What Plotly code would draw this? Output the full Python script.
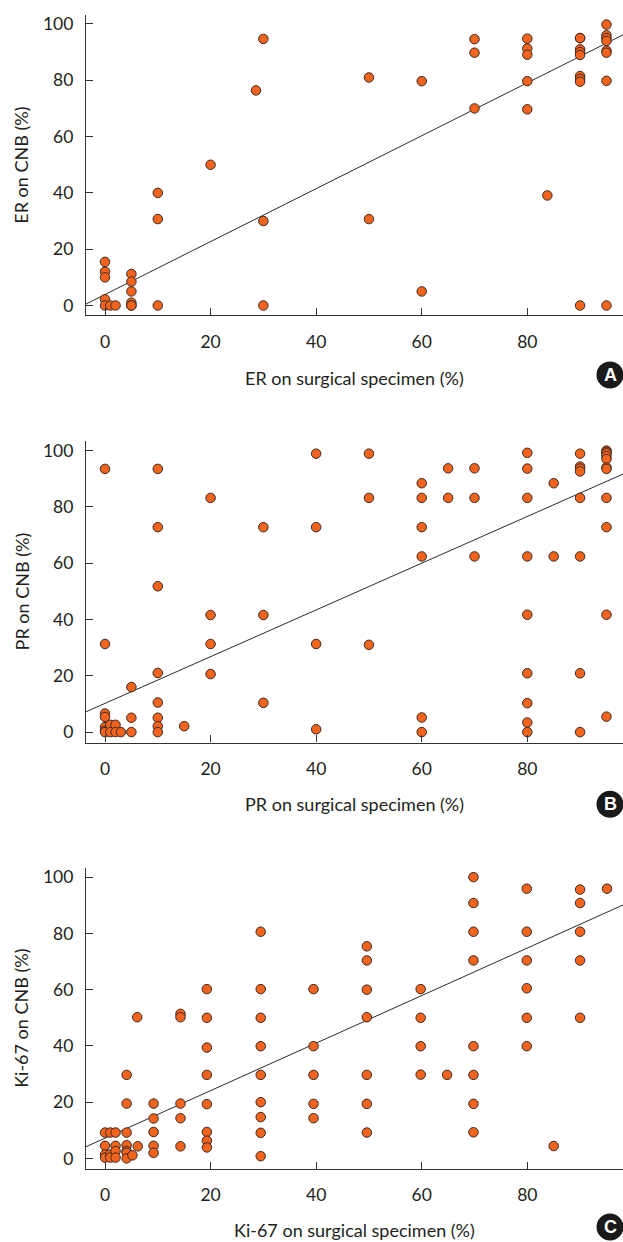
import plotly.graph_objects as go

# ---------------- data ----------------
er_surgical = [0, 0, 0, 0, 0, 1, 2,
               5, 5, 5, 5, 5, 5,
               10, 10, 10, 20, 28.6, 30, 30, 30,
               50, 50, 60, 60, 70, 70, 70,
               80, 80, 80, 80, 80, 83.8,
               90, 90, 90, 90, 90, 90, 90, 90, 90,
               95, 95, 95, 95, 95, 95, 95, 95]
er_cnb = [15.5, 12, 10, 2.2, 0, 0, 0,
          11.2, 8.5, 5, 1, 0, 0,
          40, 30.7, 0, 50, 76.4, 94.7, 30, 0,
          81, 30.7, 79.7, 5, 94.6, 89.8, 70,
          94.8, 91.3, 89.1, 79.7, 69.7, 39.1,
          95, 95, 91, 90, 89, 81.5, 80.5, 79.5, 0,
          99.8, 96, 95, 94, 90.5, 89.8, 79.8, 0]
er_fit = (3.9, 0.94)  # intercept, slope

pr_surgical = [0, 0, 0, 0, 0, 0, 0, 1, 1, 2, 2, 3,
               5, 5, 5,
               10, 10, 10, 10, 10, 10, 10, 10, 15,
               20, 20, 20, 20, 30, 30, 30,
               40, 40, 40, 40, 50, 50, 50,
               60, 60, 60, 60, 60, 60, 65, 65, 70, 70, 70,
               80, 80, 80, 80, 80, 80, 80, 80, 80, 85, 85,
               90, 90, 90, 90, 90, 90, 90, 90,
               95, 95, 95, 95, 95, 95, 95, 95, 95, 95, 95]
pr_cnb = [93.5, 31.3, 6.6, 5.4, 1.8, 0.5, 0, 2.6, 0, 2.6, 0, 0,
          16, 5.1, 0,
          93.5, 72.8, 51.8, 21, 10.5, 5.1, 2.1, 0, 2.1,
          83.2, 41.6, 31.3, 20.6, 72.8, 41.6, 10.4,
          98.9, 72.8, 31.3, 1.0, 98.9, 83.2, 31.0,
          88.4, 83.2, 72.8, 62.4, 5.2, 0, 93.7, 83.2, 93.7, 83.2, 62.4,
          99.2, 93.6, 83.2, 62.4, 41.7, 20.9, 10.3, 3.4, 0, 88.4, 62.4,
          98.9, 94.3, 93.6, 92.6, 83.2, 62.4, 20.9, 0,
          100, 99.5, 99, 98, 97, 94, 93.5, 83.2, 72.8, 41.7, 5.5]
pr_fit = (10.2, 0.83)

ki_surgical = [0, 0, 0, 0, 1, 1, 1, 2, 2, 2, 2,
               4.1, 4.1, 4.1, 4.1, 4.1, 4.1, 4.1, 5.2, 6.1, 6.2,
               9.2, 9.2, 9.2, 9.2, 9.2,
               14.3, 14.3, 14.3, 14.3, 14.3,
               19.3, 19.3, 19.3, 19.3, 19.3, 19.3, 19.3, 19.3,
               29.5, 29.5, 29.5, 29.5, 29.5, 29.5, 29.5, 29.5, 29.5,
               39.5, 39.5, 39.5, 39.5, 39.5,
               49.6, 49.6, 49.6, 49.6, 49.6, 49.6, 49.6,
               59.8, 59.8, 59.8, 59.8, 64.8,
               69.8, 69.8, 69.8, 69.8, 69.8, 69.8, 69.8, 69.8,
               79.9, 79.9, 79.9, 79.9, 79.9, 79.9, 85,
               90, 90, 90, 90, 90, 95.1]
ki_cnb = [9.2, 4.5, 1.4, 0.3, 9.2, 1.4, 0.3, 9.2, 4.5, 2.6, 0.3,
          29.7, 19.5, 9.2, 4.7, 2.6, 2.0, 0, 1.1, 50.2, 4.3,
          19.5, 14.2, 9.4, 4.5, 2.0,
          51.4, 50.2, 19.5, 14.3, 4.3,
          60.2, 50, 39.4, 29.7, 19.3, 9.4, 6.3, 3.9,
          80.6, 60.2, 50, 39.9, 29.7, 20, 14.7, 9.1, 0.8,
          60.2, 39.9, 29.7, 19.4, 14.3,
          75.4, 70.4, 60, 50.2, 29.7, 19.4, 9.2,
          60.2, 50, 39.9, 29.8, 29.7,
          100, 90.8, 80.6, 70.4, 39.9, 29.7, 19.4, 9.3,
          95.9, 80.6, 70.4, 60.5, 50, 39.9, 4.4,
          95.6, 90.8, 80.6, 70.4, 50, 95.9]
ki_fit = (7.2, 0.845)

y_titles = ["ER on CNB (%)", "PR on CNB (%)", "Ki-67 on CNB (%)"]
x_titles = ["ER on surgical specimen (%)", "PR on surgical specimen (%)",
            "Ki-67 on surgical specimen (%)"]
badges = ["A", "B", "C"]
x_ticks = [0, 20, 40, 60, 80]
y_ticks = [0, 20, 40, 60, 80, 100]

# ---------------- layout geometry ----------------
W, H = 623, 1242
FONT = "Lato"
x_range = [-3.6, 98.13]
y_ranges = [[-3.55, 103.2], [-3.69, 103.3], [-3.8, 103.4]]
# (top px, bottom px) of each panel
panel_px = [(13, 314), (440, 741.7), (867, 1169)]
xtitle_px = [377, 803, 1230]
badge_px = [373.5, 803.5, 1227]
left_px = 86

fig = go.Figure()
datasets = [(er_surgical, er_cnb, er_fit),
            (pr_surgical, pr_cnb, pr_fit),
            (ki_surgical, ki_cnb, ki_fit)]

for i, (xs, ys, (b0, b1)) in enumerate(datasets):
    ax = "" if i == 0 else str(i + 1)
    fig.add_trace(go.Scatter(
        x=[x_range[0], x_range[1]],
        y=[b0 + b1 * x_range[0], b0 + b1 * x_range[1]],
        mode="lines", line=dict(color="#2b2b2b", width=1),
        xaxis="x" + ax, yaxis="y" + ax, showlegend=False, hoverinfo="skip"))
    fig.add_trace(go.Scatter(
        x=xs, y=ys, mode="markers",
        marker=dict(size=9.5, color="#F2641E",
                    line=dict(color="#3a2a22", width=1)),
        xaxis="x" + ax, yaxis="y" + ax, showlegend=False))

axis_common = dict(showline=True, linecolor="#333333", linewidth=1.3,
                   ticks="inside", ticklen=7, tickwidth=1.2, tickcolor="#333333",
                   showgrid=False, zeroline=False,
                   tickfont=dict(family=FONT, size=17.5, color="#231f20"))

layout = dict(width=W, height=H, margin=dict(l=0, r=0, t=0, b=0),
              plot_bgcolor="white", paper_bgcolor="white",
              annotations=[], shapes=[])

for i in range(3):
    top, bot = panel_px[i]
    xa = "xaxis" if i == 0 else "xaxis%d" % (i + 1)
    ya = "yaxis" if i == 0 else "yaxis%d" % (i + 1)
    xref = "x" if i == 0 else "x%d" % (i + 1)
    yref = "y" if i == 0 else "y%d" % (i + 1)
    layout[xa] = dict(axis_common, domain=[left_px / W, 1.0], range=x_range,
                      tickvals=x_ticks, anchor=yref, ticklabelstandoff=10)
    layout[ya] = dict(axis_common, domain=[1 - bot / H, 1 - top / H],
                      range=y_ranges[i], tickvals=y_ticks, anchor=xref,
                      ticklabelstandoff=8)
    # axis titles
    layout["annotations"].append(dict(
        text=x_titles[i], x=(left_px + W) / 2 / W, y=1 - xtitle_px[i] / H,
        xref="paper", yref="paper", showarrow=False, xanchor="center",
        yanchor="middle", font=dict(family=FONT, size=18, color="#231f20")))
    layout["annotations"].append(dict(
        text=y_titles[i], x=21.5 / W, y=1 - (top + bot) / 2 / H,
        xref="paper", yref="paper", showarrow=False, xanchor="center",
        yanchor="middle", textangle=-90,
        font=dict(family=FONT, size=18, color="#231f20")))
    # panel badge
    cx, cy, r = 610, badge_px[i], 13.5
    layout["shapes"].append(dict(
        type="circle", xref="paper", yref="paper",
        x0=(cx - r) / W, x1=(cx + r) / W, y0=1 - (cy + r) / H, y1=1 - (cy - r) / H,
        fillcolor="#1a1a1a", line=dict(width=0)))
    layout["annotations"].append(dict(
        text="<b>%s</b>" % badges[i], x=cx / W, y=1 - cy / H,
        xref="paper", yref="paper", showarrow=False, xanchor="center",
        yanchor="middle", font=dict(family="Liberation Sans", size=18, color="white")))

fig.update_layout(**layout)
fig.write_html("out.html", config={"displayModeBar": False},
               post_script="document.body.style.margin='0';"
                           "document.body.style.overflow='hidden';")
